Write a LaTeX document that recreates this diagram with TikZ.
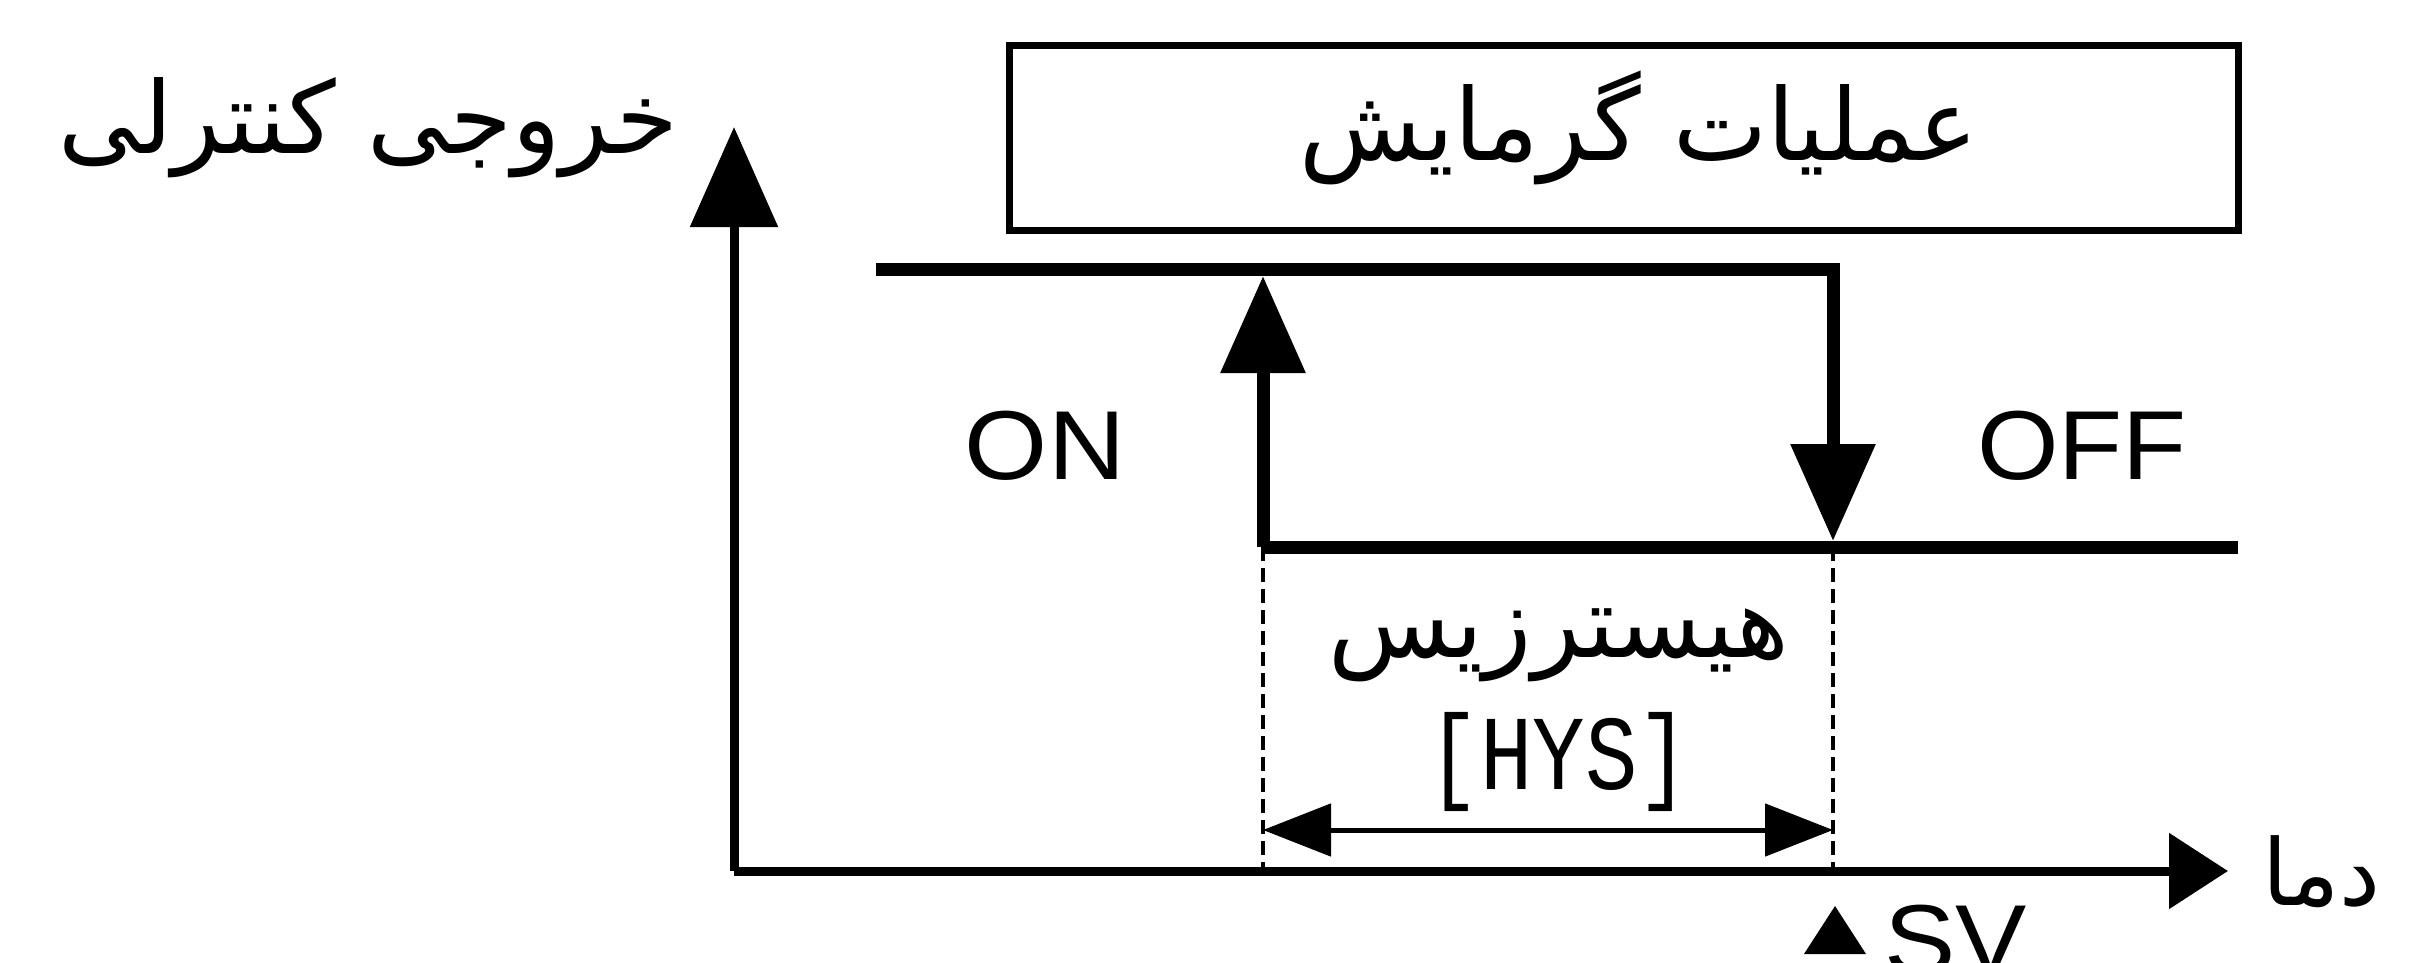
\documentclass[tikz,border=0pt]{standalone}
\usepackage{fontspec}
\setmainfont{Liberation Sans}
\newfontfamily\arabicfont[Script=Arabic]{DejaVu Sans}
\newfontfamily\segfont{Liberation Mono}
\TeXXeTstate=1
\usetikzlibrary{arrows.meta}

\begin{document}
\begin{tikzpicture}[x=1pt,y=-1pt,
  every node/.style={inner sep=0pt, outer sep=0pt},
  axisline/.style={line width=9pt},
  yhead/.style={-{Triangle[length=100pt,width=86pt]}},
  xhead/.style={-{Triangle[length=59pt,width=74pt]}},
  stepline/.style={line width=13pt},
  stephead/.style={-{Triangle[length=97pt,width=82pt]}},
  guide/.style={line width=4pt, dash pattern=on 14pt off 7pt},
  span/.style={line width=5pt, {Triangle[length=68pt,width=52pt]}-{Triangle[length=68pt,width=52pt]}},
  farsi/.style={font=\arabicfont\fontsize{100}{120}\selectfont},
  latin/.style={font=\fontsize{98}{110}\selectfont},
]
\fill[white] (0,0) rectangle (2409,963);
\useasboundingbox (0,0) rectangle (2409,963);

% key points of the axes and of the switching characteristic
\coordinate (O) at (734,871);
\coordinate (Ytop) at (734,127);
\coordinate (Xend) at (2228,871);
\coordinate (HiStart) at (876,269);
\coordinate (HiCorner) at (1833,269);
\coordinate (OffPt) at (1833,541);
\coordinate (OffLvl) at (1833,547);
\coordinate (OnPt) at (1263,547);
\coordinate (OnTop) at (1263,276);
\coordinate (LoEnd) at (2238,547);
\coordinate (OnFoot) at (1263,871);
\coordinate (OffFoot) at (1833,871);
\coordinate (HysL) at (1263,830);
\coordinate (HysR) at (1833,830);

% axes
\draw[axisline, yhead] (O) -- (Ytop);
\draw[axisline, xhead] (O) -- (Xend);
\node[farsi, anchor=east] (ylab) at (678,128) {\beginR خروجی کنترلی\endR};
\node[farsi, font=\arabicfont\fontsize{92}{110}\selectfont, anchor=west] (xlab) at (2262,872) {\beginR دما\endR};

% heating operation label
\node[draw, line width=7pt, minimum width=1229pt, minimum height=184pt]
  (heat) at (1623.5,138) {};
\node[farsi] (heattext) at (1639,128) {\beginR عملیات گرمایش\endR};

% output levels and switching arrows
\draw[stepline, stephead] (HiStart) -- (HiCorner) -- (OffPt);
\draw[stepline] (OnPt) -- (LoEnd);
\draw[stepline, stephead] (OnPt) -- (OnTop);
\node[latin] (on) at (1045,446) {\scalebox{1.09}[1]{ON}};
\node[latin] (off) at (2082,446) {\scalebox{1.07}[1]{OFF}};

% hysteresis band
\draw[guide] (OnPt) -- (OnFoot);
\draw[guide] (OffLvl) -- (OffFoot);
\draw[span] (HysL) -- (HysR);
\node[farsi] (hys) at (1559,645) {\beginR هیسترزیس\endR};
\node (hyscode) at (1559,762) {\scalebox{1.15}[1.4]{\segfont\fontsize{76}{80}\selectfont[HYS]}};

% set value marker
\fill (1835,906) -- (1866,954) -- (1804,954) -- cycle;
\node[latin, anchor=north west] (sv) at (1884,905) {\scalebox{1.09}[1]{SV}};
\end{tikzpicture}
\end{document}
